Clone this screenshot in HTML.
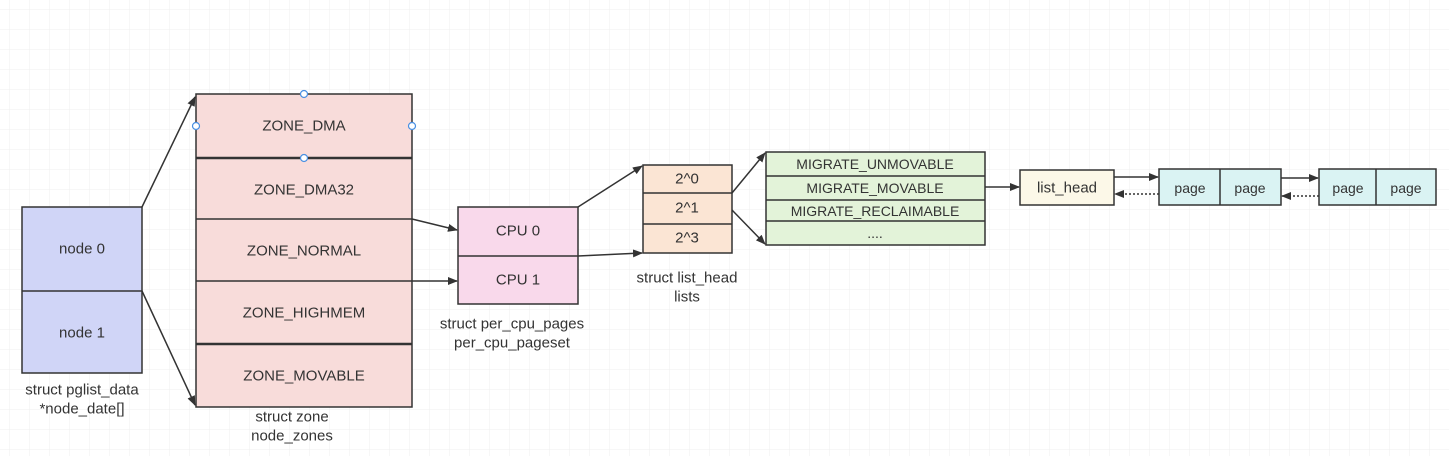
<!DOCTYPE html>
<html><head><style>body{margin:0;background:#fff}svg{display:block}text{font-family:"Liberation Sans",sans-serif;fill:#333}</style></head><body>
<svg width="1449" height="456" xmlns="http://www.w3.org/2000/svg">
<defs>
<pattern id="g" width="20" height="20" patternUnits="userSpaceOnUse" x="10" y="10"><path d="M20 0V20M0 20H20" stroke="#efefef" stroke-width="1" fill="none"/></pattern>
<marker id="a" markerWidth="10" markerHeight="8" refX="9" refY="4" orient="auto" markerUnits="userSpaceOnUse"><path d="M0,0L10,4L0,8z" fill="#333"/></marker>
</defs>
<rect width="1449" height="456" fill="url(#g)"/>
<g stroke="#333" stroke-width="1.5" fill="none">
<line x1="142" y1="207" x2="195" y2="97" marker-end="url(#a)"/>
<line x1="142" y1="291" x2="195" y2="405" marker-end="url(#a)"/>
<line x1="412" y1="219" x2="457" y2="230" marker-end="url(#a)"/>
<line x1="412" y1="281" x2="457" y2="281" marker-end="url(#a)"/>
<line x1="578" y1="207" x2="642" y2="166" marker-end="url(#a)"/>
<line x1="578" y1="256" x2="642" y2="253" marker-end="url(#a)"/>
<line x1="732" y1="193" x2="765" y2="153" marker-end="url(#a)"/>
<line x1="732" y1="210" x2="765" y2="244" marker-end="url(#a)"/>
<line x1="985" y1="187" x2="1019" y2="187" marker-end="url(#a)"/>
<line x1="1114" y1="177" x2="1158" y2="177" marker-end="url(#a)"/>
<line x1="1281" y1="178" x2="1318" y2="178" marker-end="url(#a)"/>
<line x1="1159" y1="194" x2="1115" y2="194" stroke-dasharray="2,2" marker-end="url(#a)"/>
<line x1="1319" y1="196" x2="1282" y2="196" stroke-dasharray="2,2" marker-end="url(#a)"/>
</g>
<g stroke="#333" stroke-width="1.5">
<rect x="22" y="207" width="120" height="166" fill="#d0d5f7"/>
<line x1="22" y1="291" x2="142" y2="291"/>
<rect x="196" y="94" width="216" height="313" fill="#f8dcda"/>
<line x1="196" y1="158" x2="412" y2="158" stroke-width="2.5"/>
<line x1="196" y1="219" x2="412" y2="219"/>
<line x1="196" y1="281" x2="412" y2="281"/>
<line x1="196" y1="344" x2="412" y2="344" stroke-width="2.5"/>
<rect x="458" y="207" width="120" height="97" fill="#f9d9eb"/>
<line x1="458" y1="256" x2="578" y2="256"/>
<rect x="643" y="165" width="89" height="88" fill="#fbe5d4"/>
<line x1="643" y1="193" x2="732" y2="193"/>
<line x1="643" y1="224" x2="732" y2="224"/>
<rect x="766" y="152" width="219" height="93" fill="#e3f3d9"/>
<line x1="766" y1="176" x2="985" y2="176"/>
<line x1="766" y1="200" x2="985" y2="200"/>
<line x1="766" y1="221" x2="985" y2="221"/>
<rect x="1020" y="170" width="94" height="35" fill="#fcf8e8"/>
<rect x="1159" y="169" width="122" height="36" fill="#daf3f3"/>
<line x1="1220" y1="169" x2="1220" y2="205"/>
<rect x="1319" y="169" width="117" height="36" fill="#daf3f3"/>
<line x1="1376" y1="169" x2="1376" y2="205"/>
</g>
<g fill="#fff" stroke="#4a90e2" stroke-width="1.2">
<circle cx="304" cy="94" r="3.5"/><circle cx="196" cy="126" r="3.5"/><circle cx="412" cy="126" r="3.5"/><circle cx="304" cy="158" r="3.5"/>
</g>
<g font-size="15" text-anchor="middle" dominant-baseline="central">
<text x="82" y="249">node 0</text><text x="82" y="333">node 1</text>
<text x="304" y="126">ZONE_DMA</text><text x="304" y="190">ZONE_DMA32</text><text x="304" y="251">ZONE_NORMAL</text><text x="304" y="313">ZONE_HIGHMEM</text><text x="304" y="376">ZONE_MOVABLE</text>
<text x="518" y="231">CPU 0</text><text x="518" y="280">CPU 1</text>
<text x="687" y="179">2^0</text><text x="687" y="208">2^1</text><text x="687" y="238">2^3</text>
<text x="875" y="164" font-size="14">MIGRATE_UNMOVABLE</text><text x="875" y="188" font-size="14">MIGRATE_MOVABLE</text><text x="875" y="211" font-size="14">MIGRATE_RECLAIMABLE</text><text x="875" y="233" font-size="14">....</text>
<text x="1067" y="188">list_head</text>
<text x="1190" y="188" font-size="14">page</text><text x="1250" y="188" font-size="14">page</text><text x="1348" y="188" font-size="14">page</text><text x="1406" y="188" font-size="14">page</text>
<text x="82" y="390">struct pglist_data</text><text x="82" y="409">*node_date[]</text>
<text x="292" y="417">struct zone</text><text x="292" y="436">node_zones</text>
<text x="512" y="324">struct per_cpu_pages</text><text x="512" y="343">per_cpu_pageset</text>
<text x="687" y="278">struct list_head</text><text x="687" y="297">lists</text>
</g>
</svg>
</body></html>
